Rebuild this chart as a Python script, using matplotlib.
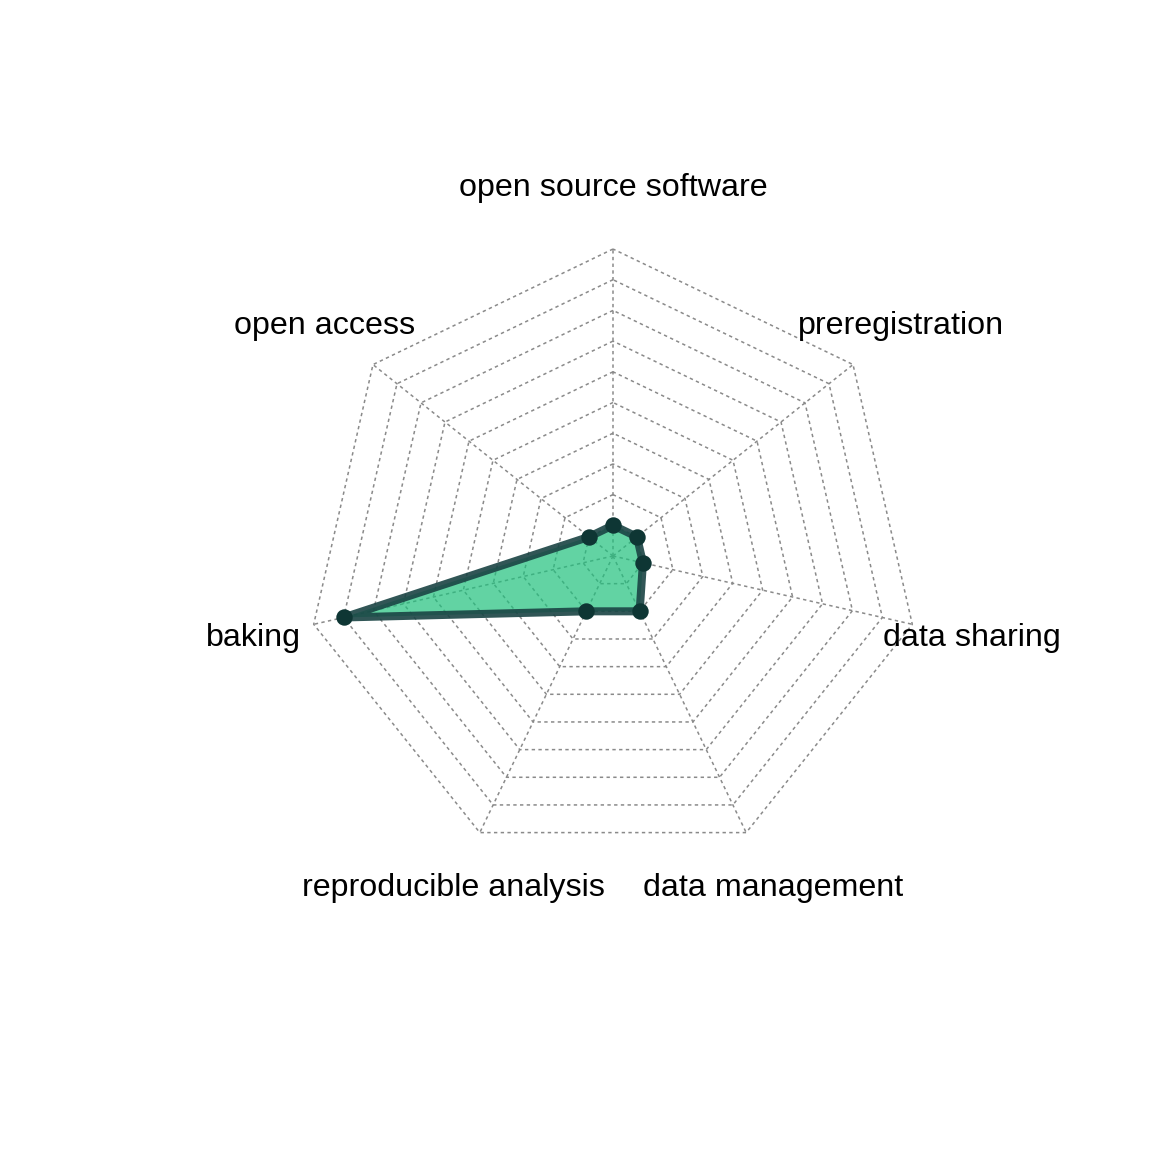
import numpy as np
import matplotlib
matplotlib.use("Agg")
import matplotlib.pyplot as plt

labels = ["open source software", "open access", "baking",
          "reproducible analysis", "data management", "data sharing",
          "preregistration"]
values = [0, 0, 8, 1, 1, 0, 0]
vmin, vmax, seg = 0, 9, 9

n = len(labels)
theta = np.deg2rad(90 + 360 / n * np.arange(n))
xx, yy = np.cos(theta), np.sin(theta)

fig = plt.figure(figsize=(11.52, 11.52), dpi=100)
ax = fig.add_axes([0, 0, 1, 1])
R = 307.0
cx, cy = 613.0, 556.0
ax.set_xlim(-cx / R, (1152 - cx) / R)
ax.set_ylim(-(1152 - cy) / R, cy / R)
ax.axis("off")

gridc = "#8a8a8a"
ls = (0, (2.2, 2.2))
for i in range(seg + 1):
    r = (i + 1) / (seg + 1)
    ax.plot(np.append(xx, xx[0]) * r, np.append(yy, yy[0]) * r,
            color=gridc, lw=1.1, ls=ls, zorder=1)
for k in range(n):
    ax.plot([0, xx[k]], [0, yy[k]], color=gridc, lw=1.1, ls=ls, zorder=1)

v = np.array(values, dtype=float)
rad = ((v - vmin) / (vmax - vmin) * seg + 1) / (seg + 1)
px, py = xx * rad, yy * rad
ax.fill(px, py, color="#1fc17d", alpha=0.7, lw=0, zorder=2)
ax.plot(np.append(px, px[0]), np.append(py, py[0]), color="#1a4444",
        alpha=0.9, lw=5.8, solid_joinstyle="round", zorder=3)
ax.scatter(px, py, s=140, color="#0e3634", zorder=4, lw=0)

for k in range(n):
    ax.text(xx[k] * 1.2, yy[k] * 1.2, labels[k], ha="center", va="center",
            fontsize=23.2, family="Liberation Sans", color="black")

fig.savefig("out.png", dpi=100)
